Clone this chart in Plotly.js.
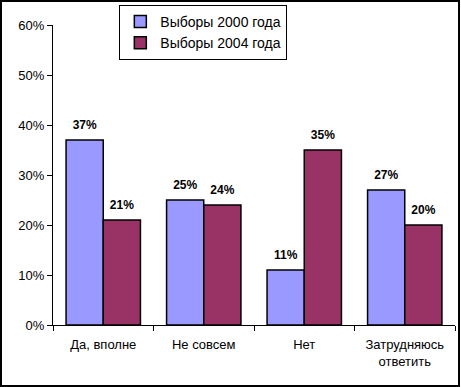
<!DOCTYPE html>
<html><head><meta charset="utf-8">
<script src="https://cdn.plot.ly/plotly-3.0.1.min.js"></script>
<style>body{margin:0;padding:0;background:#fff}#wrap{position:relative;width:461px;height:387px}
#frame{position:absolute;left:0;top:0;width:460px;height:387px;box-sizing:border-box;border:2px solid #000;pointer-events:none}</style>
</head><body>
<div id="wrap"><div id="chart" style="width:461px;height:387px"></div><div id="frame"></div></div>
<script>
const categories = ["Да, вполне", "Не совсем", "Нет", "Затрудняюсь<br>ответить"];
const series2000 = [37, 25, 11, 27];
const series2004 = [21, 24, 35, 20];
const seriesNames = ["Выборы 2000 года", "Выборы 2004 года"];
const yTickVals = [0, 10, 20, 30, 40, 50, 60];
const yTickText = ["0%", "10%", "20%", "30%", "40%", "50%", "60%"];

const font = "Liberation Sans, Arial, sans-serif";
function bar(name, vals, color, grp){
  return {type:"bar", name:name, x:categories, y:vals, offsetgroup:grp,
    marker:{color:color, line:{color:"#000", width:1.5}}};
}
function labels(vals, grp){
  return {type:"scatter", mode:"markers+text", x:categories, y:vals, offsetgroup:grp, showlegend:false,
    text: vals.map(v=>v+"%"), textposition:"top center",
    textfont:{family:font, size:12, color:"#000", weight:"bold"},
    marker:{size:11, opacity:0}, cliponaxis:false, hoverinfo:"skip"};
}
const data = [bar(seriesNames[0], series2000, "#9999FF", "a"), bar(seriesNames[1], series2004, "#993366", "b"),
  labels(series2000, "a"), labels(series2004, "b")];
const layout = {
  width:461, height:387,
  margin:{l:53, r:6, t:25, b:62, autoexpand:false},
  paper_bgcolor:"#fff", plot_bgcolor:"#fff",
  font:{family:font, size:13, color:"#000"},
  bargap:0.26, bargroupgap:0, scattermode:"group", scattergap:0.26,
  showlegend:true,
  legend:{x:0.165, y:1.067, xanchor:"left", yanchor:"top",
    bgcolor:"#fff", bordercolor:"#000", borderwidth:1,
    font:{family:font, size:14}, itemwidth:30},
  xaxis:{type:"category", tickson:"boundaries", ticks:"outside", ticklen:5, tickcolor:"#000",
    showline:true, linecolor:"#000", linewidth:1, showgrid:false, zeroline:false,
    tickfont:{family:font, size:13}, ticklabelstandoff:7, tickangle:0, fixedrange:true},
  yaxis:{range:[0,60], tickvals:yTickVals, ticktext:yTickText, ticks:"outside", ticklen:5, tickcolor:"#000",
    showline:true, linecolor:"#000", linewidth:1, showgrid:false, zeroline:false,
    tickfont:{family:font, size:13}, fixedrange:true}
};
Plotly.newPlot("chart", data, layout, {displayModeBar:false, staticPlot:true});
</script></body></html>
